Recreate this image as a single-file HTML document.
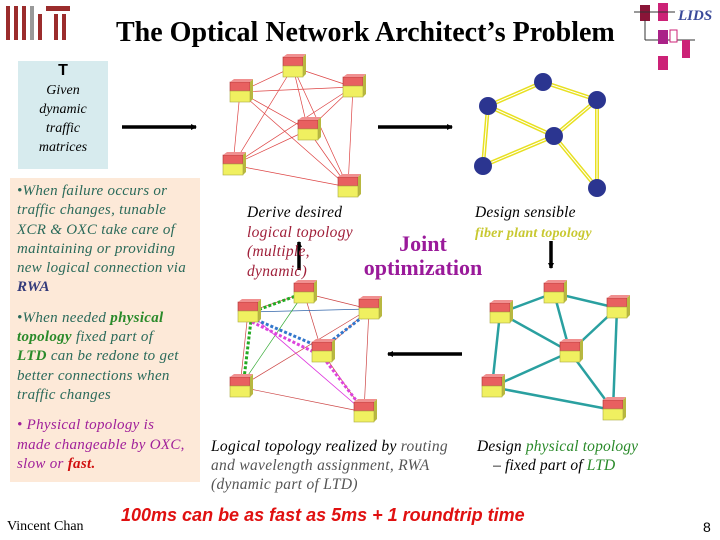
<!DOCTYPE html>
<html><head><meta charset="utf-8"><style>
body{margin:0;width:720px;height:540px;background:#fff;position:relative;overflow:hidden;font-family:"Liberation Serif",serif}
.a{position:absolute;white-space:nowrap}
.i{font-style:italic}
</style></head><body>
<svg class="a" style="left:0;top:0" width="720" height="540">
<defs>
<g id="nd"><rect x="-10" y="-10" width="20" height="9" fill="#e86060" stroke="#a33" stroke-width=".6"/><polygon points="-10,-10 -6,-13 13,-13 10,-10" fill="#f09090"/><polygon points="10,-10 13,-13 13,7 10,10" fill="#b8b840"/><rect x="-10" y="-1" width="20" height="11" fill="#f0f060" stroke="#aa4" stroke-width=".6"/></g>
<marker id="ar" markerWidth="6" markerHeight="6" refX="5" refY="3" orient="auto" markerUnits="userSpaceOnUse"><path d="M0,0L6,3L0,6z" fill="#000"/></marker>
</defs>
<g fill="#9b2c2c"><rect x="6" y="6" width="4" height="34"/><rect x="14" y="6" width="4" height="34"/><rect x="22" y="6" width="4" height="34"/><rect x="38" y="14" width="4" height="26"/><rect x="46" y="6" width="24" height="5"/><rect x="54" y="14" width="4" height="26"/><rect x="62" y="14" width="4" height="26"/></g>
<rect x="30" y="6" width="4" height="34" fill="#999"/>
<g><rect x="640" y="5" width="10" height="16" fill="#8a1538"/><rect x="658" y="3" width="10" height="18" fill="#cc2277"/><line x1="634" y1="12" x2="675" y2="12" stroke="#333"/><line x1="645" y1="20" x2="645" y2="40" stroke="#333"/><line x1="645" y1="40" x2="695" y2="40" stroke="#333"/><rect x="658" y="30" width="10" height="14" fill="#aa2288"/><rect x="670" y="30" width="7" height="12" fill="#fff" stroke="#c27"/><rect x="682" y="40" width="8" height="18" fill="#c27"/><rect x="658" y="56" width="10" height="14" fill="#c27"/></g>
<text x="678" y="20" font-family="Liberation Serif" font-style="italic" font-weight="bold" font-size="15" fill="#3a4a9a">LIDS</text>
<g stroke="#000" stroke-width="3.5"><line x1="122" y1="127" x2="196" y2="127" marker-end="url(#ar)"/><line x1="378" y1="127" x2="452" y2="127" marker-end="url(#ar)"/><line x1="462" y1="354" x2="388" y2="354" marker-end="url(#ar)"/><line x1="299" y1="270" x2="299" y2="242" marker-end="url(#ar)"/><line x1="551" y1="241" x2="551" y2="268" marker-end="url(#ar)"/></g>
<g stroke="#d44" stroke-width=".7" fill="none">
<path d="M293,67L240,92M293,67L353,87M293,67L308,130M293,67L233,165M240,92L353,87M240,92L308,130M240,92L233,165M240,92L348,187M353,87L308,130M353,87L233,165M353,87L348,187M308,130L348,187M308,130L233,165M233,165L348,187M293,67L348,187"/></g>
<use href="#nd" x="293" y="67"/><use href="#nd" x="240" y="92"/><use href="#nd" x="353" y="87"/><use href="#nd" x="308" y="130"/><use href="#nd" x="233" y="165"/><use href="#nd" x="348" y="187"/>
<g stroke="#e8e020" stroke-width="4" fill="none"><path d="M488,106L543,82L597,100M488,106L554,136L597,100M488,106L483,166L554,136L597,188L597,100"/></g>
<g stroke="#fff" stroke-width="1" fill="none"><path d="M488,106L543,82L597,100M488,106L554,136L597,100M488,106L483,166L554,136L597,188L597,100"/></g>
<g fill="#2b3590"><circle cx="543" cy="82" r="9"/><circle cx="488" cy="106" r="9"/><circle cx="597" cy="100" r="9"/><circle cx="554" cy="136" r="9"/><circle cx="483" cy="166" r="9"/><circle cx="597" cy="188" r="9"/></g>
<g stroke="#c44" stroke-width=".7" fill="none"><path d="M304,293L248,312M304,293L369,309M304,293L322,352M248,312L240,387M369,309L322,352M369,309L364,412M369,309L240,387M240,387L364,412M322,352L364,412"/></g>
<line x1="248" y1="312" x2="369" y2="309" stroke="#36a" stroke-width=".8"/>
<line x1="304" y1="293" x2="240" y2="387" stroke="#3a3" stroke-width=".7"/>
<line x1="248" y1="312" x2="364" y2="412" stroke="#d3d" stroke-width=".8"/>
<path d="M304,293L252,312L243,387" fill="none" stroke="#2a2" stroke-width="3" stroke-dasharray="3,2"/>
<path d="M252,318L322,348L369,312" fill="none" stroke="#37c" stroke-width="3" stroke-dasharray="3,2"/>
<path d="M252,322L322,356L362,408" fill="none" stroke="#d4d" stroke-width="3" stroke-dasharray="3,2"/>
<use href="#nd" x="304" y="293"/><use href="#nd" x="248" y="312"/><use href="#nd" x="369" y="309"/><use href="#nd" x="322" y="352"/><use href="#nd" x="240" y="387"/><use href="#nd" x="364" y="412"/>
<g stroke="#2aa0a0" stroke-width="2.5" fill="none"><path d="M500,313L554,293L617,308M500,313L570,352L617,308M554,293L570,352M500,313L492,387L570,352L613,410L617,308M492,387L613,410"/></g>
<use href="#nd" x="554" y="293"/><use href="#nd" x="500" y="313"/><use href="#nd" x="617" y="308"/><use href="#nd" x="570" y="352"/><use href="#nd" x="492" y="387"/><use href="#nd" x="613" y="410"/>
</svg>
<div class="a" style="left:116px;top:17px;font-size:28px;font-weight:bold">The Optical Network Architect’s Problem</div>
<div class="a" style="left:18px;top:61px;width:90px;height:108px;background:#d7ebee;text-align:center;font-size:14px;line-height:19px">
<div style="font-family:'Liberation Sans';font-weight:bold;font-size:16px;line-height:20px">T</div>
<div class="i">Given<br>dynamic<br>traffic<br>matrices</div></div>
<div class="a i" style="left:10px;top:178px;width:181px;height:294px;padding:4px 2px 6px 7px;background:#fde9d8;font-size:15px;letter-spacing:0.3px;line-height:19.3px;color:#2a6a5a;overflow:hidden">
<div>•When failure occurs or<br>traffic changes, tunable<br>XCR &amp; OXC take care of<br>maintaining or providing<br>new logical connection via<br><b style="color:#333a7a">RWA</b></div>
<div style="margin-top:11px">•When needed <b style="color:#2a8a2a">physical<br>topology</b> fixed part of<br><b style="color:#2a8a2a">LTD</b> can be redone to get<br>better connections when<br>traffic changes</div>
<div style="margin-top:11px;color:#a0209a">• Physical topology is<br>made changeable by OXC,<br>slow or <b style="color:#d01010">fast.</b></div>
</div>
<div class="a i" style="left:247px;top:203px;font-size:15.5px;letter-spacing:0.3px;line-height:19.5px"><span>Derive desired</span><br><span style="color:#a0203a">logical topology<br>(multiple,<br>dynamic)</span></div>
<div class="a i" style="left:475px;top:203px;font-size:15.5px;letter-spacing:0.2px;line-height:19.5px">Design sensible<br><b style="color:#c8c830;font-size:14px">fiber plant topology</b></div>
<div class="a" style="left:356px;top:232px;width:134px;text-align:center;font-size:22px;line-height:24px;font-weight:bold;color:#9a1a9a">Joint<br>optimization</div>
<div class="a i" style="left:211px;top:437px;font-size:15.5px;letter-spacing:0.3px;line-height:19px">Logical topology realized by <span style="color:#555">routing<br>and wavelength assignment, RWA<br>(dynamic part of LTD)</span></div>
<div class="a i" style="left:477px;top:437px;font-size:15.5px;letter-spacing:0.15px;line-height:19px">Design <span style="color:#2a8a2a">physical topology</span><br>&nbsp;&nbsp;&nbsp;&nbsp;– fixed part of <span style="color:#2a8a2a">LTD</span></div>
<div class="a" style="left:7px;top:519px;font-size:14px">Vincent Chan</div>
<div class="a" style="left:121px;top:505px;font-family:'Liberation Sans';font-weight:bold;font-style:italic;font-size:18px;color:#e01010">100ms can be as fast as 5ms + 1 roundtrip time</div>
<div class="a" style="left:703px;top:519px;font-family:'Liberation Sans';font-size:14px">8</div>
</body></html>
